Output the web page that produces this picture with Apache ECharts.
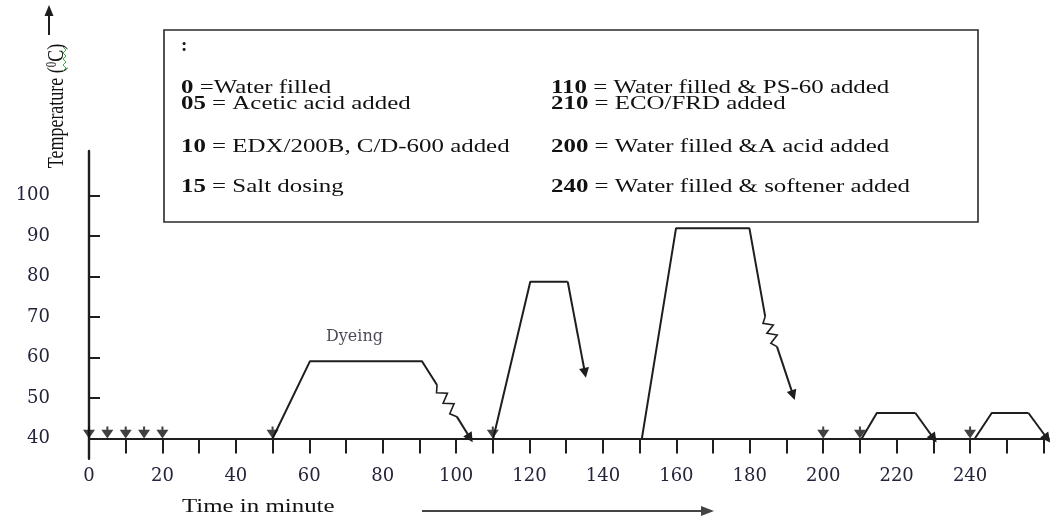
<!DOCTYPE html>
<html>
<head>
<meta charset="utf-8">
<script src="https://cdn.jsdelivr.net/npm/echarts@6/dist/echarts.min.js"></script>
<style>
  html, body { margin: 0; padding: 0; background: #fff; }
  #chart { width: 1050px; height: 517px; }
</style>
</head>
<body>
<div id="chart"></div>
<script>
// ---------- data (minutes, °C) ----------
const eventTimes = [0, 5, 10, 15, 20, 50, 110, 200, 210, 240];

const dyeingProfile = [[50, 40], [60.2, 59.1], [90.7, 59.1], [94.8, 53.2]];
const dyeingZigzag  = [94.8, 53.2, 100.2, 45.4];
const dyeingArrow   = [[100.2, 45.4], [103.8, 40.1]];

const rinseProfile  = [[110.1, 40], [120.2, 78.7], [130.4, 78.7]];
const rinseArrow    = [[130.4, 78.7], [135.1, 56.2]];

const soapProfile   = [[150.6, 40], [159.9, 91.9], [179.9, 91.9], [184.2, 70.1]];
const soapZigzag    = [184.2, 70.1, 187.4, 62.7];
const soapArrow     = [[187.4, 62.7], [191.8, 50.7]];

const finishProfile1 = [[210.5, 40], [214.6, 46.3], [225.1, 46.3]];
const finishArrow1   = [[225.1, 46.3], [230.1, 40]];
const finishProfile2 = [[241.3, 40], [245.9, 46.3], [255.9, 46.3]];
const finishArrow2   = [[255.9, 46.3], [261.0, 40]];

const dyeingLabel = { text: 'Dyeing', at: [72.3, 65.1] };

const xTickLabels = [0, 20, 40, 60, 80, 100, 120, 140, 160, 180, 200, 220, 240];
const xTickMarks  = [0, 10, 20, 30, 40, 50, 60, 70, 80, 90, 100, 110, 120, 130, 140, 150, 160, 170, 180, 190, 200, 210, 220, 230, 240, 250, 260];
const yTickLabels = [40, 50, 60, 70, 80, 90, 100];
const yTickMarks  = [50, 60, 70, 80, 90, 100];

const notesLeft = [
  ['0', ' =Water filled'],
  ['05', ' = Acetic acid added'],
  ['10', ' = EDX/200B, C/D-600 added'],
  ['15', ' = Salt dosing']
];
const notesRight = [
  ['110', ' = Water filled & PS-60 added'],
  ['210', ' = ECO/FRD added'],
  ['200', ' = Water filled &A acid added'],
  ['240', ' = Water filled & softener added']
];

// ---------- styling ----------
const INK = '#1e1e1e';
const LABEL = '#23233a';
const AXFONT = 'DejaVu Serif';
const TFONT = 'Liberation Serif';
const STRETCH = 1.31;

function profileSeries(name, pts, arrow) {
  return {
    type: 'line', name: name, data: pts, symbol: 'none', silent: true,
    lineStyle: { color: INK, width: 2 },
    markLine: {
      silent: true, symbol: ['none', 'triangle'], symbolSize: 10,
      label: { show: false },
      lineStyle: { color: INK, width: 2, type: 'solid' },
      itemStyle: { color: INK },
      data: [[{ coord: arrow[0] }, { coord: arrow[1] }]]
    }
  };
}

function zigzagItem(params, api) {
  const p1 = api.coord([api.value(0), api.value(1)]);
  const p2 = api.coord([api.value(2), api.value(3)]);
  const dx = p2[0] - p1[0], dy = p2[1] - p1[1];
  const len = Math.sqrt(dx * dx + dy * dy) || 1;
  const nx = -dy / len, ny = dx / len;
  const teeth = 6, amp = 4.5;
  const pts = [p1];
  for (let i = 1; i < teeth; i++) {
    const t = i / teeth, s = (i % 2 ? 1 : -1) * amp;
    pts.push([p1[0] + dx * t + nx * s, p1[1] + dy * t + ny * s]);
  }
  pts.push(p2);
  return { type: 'polyline', shape: { points: pts }, style: { stroke: INK, lineWidth: 1.6, fill: null } };
}

function noteText(x, y, pair) {
  return {
    type: 'text', x: x, y: y, scaleX: STRETCH, silent: true,
    style: {
      text: '{b|' + pair[0] + '}{r|' + pair[1] + '}',
      verticalAlign: 'middle', align: 'left',
      rich: {
        b: { fontFamily: TFONT, fontSize: 19, fontWeight: 'bold', fill: '#111' },
        r: { fontFamily: TFONT, fontSize: 19, fill: '#111' }
      }
    }
  };
}

const rowsY = [88, 104, 147, 187];
const graphics = [
  { type: 'rect', silent: true, shape: { x: 164, y: 30, width: 814, height: 192 },
    style: { fill: 'rgba(0,0,0,0)', stroke: '#2a2a2a', lineWidth: 1.6 } },
  { type: 'text', x: 181, y: 46, silent: true,
    style: { text: ':', fontFamily: TFONT, fontSize: 19, fontWeight: 'bold', fill: '#111', verticalAlign: 'middle' } },
  // axis title (y)
  { type: 'text', x: 57, y: 106, rotation: Math.PI / 2, scaleY: STRETCH, silent: true,
    style: {
      text: '{r|Temperature (}{s|0}{r|C)}', align: 'center', verticalAlign: 'middle',
      rich: {
        r: { fontFamily: TFONT, fontSize: 18, fill: '#111' },
        s: { fontFamily: TFONT, fontSize: 11, fill: '#111', padding: [0, 0, 8, 0] }
      }
    } },
  { type: 'polyline', silent: true,
    shape: { points: [[63, 47], [66, 50], [63, 53], [66, 56], [63, 59], [66, 62], [63, 65], [66, 68], [63, 71]] },
    style: { stroke: '#3cb043', lineWidth: 1, fill: null } },
  // y arrow
  { type: 'line', silent: true, shape: { x1: 49, y1: 35, x2: 49, y2: 14 }, style: { stroke: INK, lineWidth: 2 } },
  { type: 'polygon', silent: true, shape: { points: [[44.5, 16], [49, 5], [53.5, 16]] }, style: { fill: INK } },
  // x title + arrow
  { type: 'text', x: 182, y: 507, scaleX: STRETCH, silent: true,
    style: { text: 'Time in minute', fontFamily: TFONT, fontSize: 19, fill: '#111', verticalAlign: 'middle' } },
  { type: 'line', silent: true, shape: { x1: 422, y1: 511, x2: 704, y2: 511 }, style: { stroke: '#444', lineWidth: 2 } },
  { type: 'polygon', silent: true, shape: { points: [[701, 506], [714, 511], [701, 516]] }, style: { fill: '#444' } }
];
notesLeft.forEach((p, i) => graphics.push(noteText(181, rowsY[i], p)));
notesRight.forEach((p, i) => graphics.push(noteText(551, rowsY[i], p)));

const chart = echarts.init(document.getElementById('chart'), null, { renderer: 'canvas' });
chart.setOption({
  animation: false,
  backgroundColor: '#fff',
  grid: { left: 89, right: 1, top: 151, bottom: 58.25, containLabel: false, outerBoundsMode: 'none' },
  xAxis: {
    type: 'value', min: 0, max: 261.5, interval: 10, position: 'bottom', offset: -20.25,
    axisLine: { show: true, onZero: false, lineStyle: { color: INK, width: 2 } },
    axisTick: { show: true, inside: false, length: 15, lineStyle: { color: INK, width: 2 }, customValues: xTickMarks },
    axisLabel: { show: true, margin: 29, fontFamily: AXFONT, fontSize: 18, color: LABEL, customValues: xTickLabels },
    splitLine: { show: false }
  },
  yAxis: {
    type: 'value', min: 35, max: 111,
    axisLine: { show: true, lineStyle: { color: INK, width: 2.4 } },
    axisTick: { show: true, inside: true, length: 11, lineStyle: { color: INK, width: 2 }, customValues: yTickMarks },
    axisLabel: { show: true, margin: 39, fontFamily: AXFONT, fontSize: 18, color: LABEL, customValues: yTickLabels },
    splitLine: { show: false }
  },
  graphic: graphics,
  series: [
    profileSeries('Dyeing', dyeingProfile, dyeingArrow),
    profileSeries('Rinse', rinseProfile, rinseArrow),
    profileSeries('Soaping', soapProfile, soapArrow),
    profileSeries('Finish 1', finishProfile1, finishArrow1),
    profileSeries('Finish 2', finishProfile2, finishArrow2),
    {
      type: 'custom', name: 'Irregular cooling', silent: true,
      renderItem: zigzagItem, encode: { x: [0, 2], y: [1, 3] },
      data: [dyeingZigzag, soapZigzag]
    },
    {
      type: 'scatter', name: 'Events', silent: true,
      data: eventTimes.map(t => [t, 40]),
      symbol: 'path://M5,0 H7 V3 H12 L6,11 L0,3 H5 Z',
      symbolSize: [12, 12], symbolOffset: [0, '-50%'],
      itemStyle: { color: '#111' }, z: 5
    },
    {
      type: 'scatter', name: 'Label', silent: true,
      data: [dyeingLabel.at], symbolSize: 0,
      label: { show: true, position: 'inside', formatter: dyeingLabel.text,
               fontFamily: AXFONT, fontSize: 16, color: '#1a1a2a' }
    }
  ]
});
</script>
</body>
</html>
